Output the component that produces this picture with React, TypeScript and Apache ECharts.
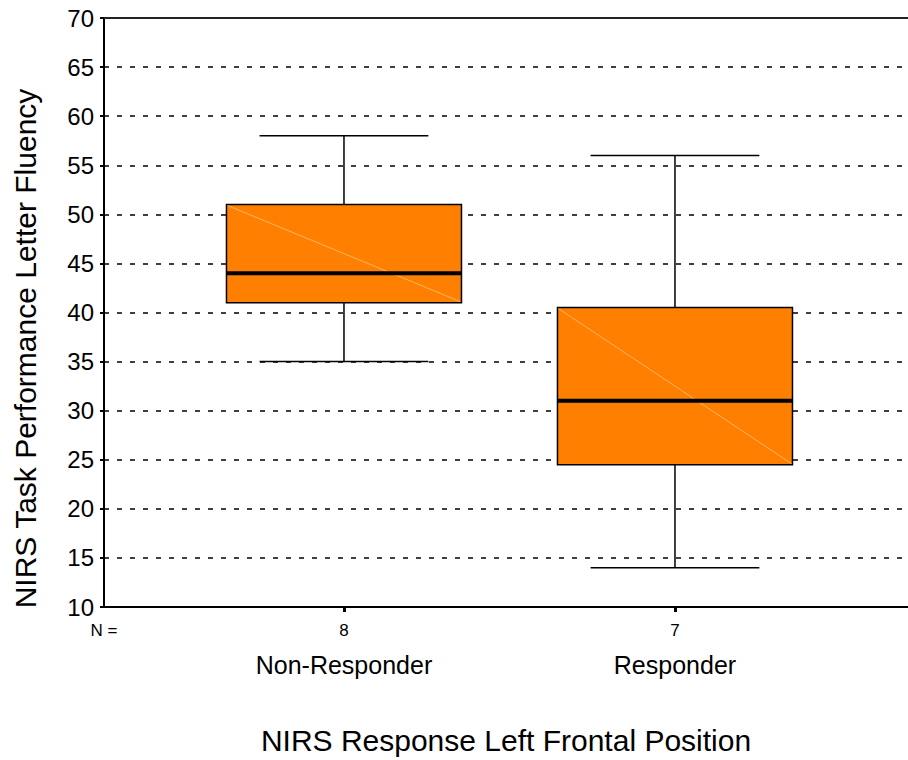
import React, { useEffect, useRef } from "react";
import * as echarts from "echarts";

const categories = ["Non-Responder", "Responder"];
const counts = [8, 7];
const minVals = [35, 14];
const q1Vals = [41, 24.5];
const medianVals = [44, 31];
const q3Vals = [51, 40.5];
const maxVals = [58, 56];
const yTicks = [10, 15, 20, 25, 30, 35, 40, 45, 50, 55, 60, 65, 70];

const X_MIN = 0.275;
const X_MAX = 2.704;
const BOX_W = 0.71;
const WHISKER_W = 0.51;
const FONT = "'Liberation Sans', Arial, Helvetica, sans-serif";

export default function App() {
  const ref = useRef<HTMLDivElement>(null);
  useEffect(() => {
    if (!ref.current) return;
    const chart = echarts.init(ref.current, undefined, { renderer: "svg" });
    const data = categories.map((_, i) => [
      i + 1,
      minVals[i],
      q1Vals[i],
      medianVals[i],
      q3Vals[i],
      maxVals[i],
    ]);
    const renderItem = (params: any, api: any) => {
      const x = api.value(0);
      const vMin = api.value(1);
      const vQ1 = api.value(2);
      const vMed = api.value(3);
      const vQ3 = api.value(4);
      const vMax = api.value(5);
      const boxW = api.size([BOX_W, 0])[0];
      const whW = api.size([WHISKER_W, 0])[0];
      const pMin = api.coord([x, vMin]);
      const pQ1 = api.coord([x, vQ1]);
      const pMed = api.coord([x, vMed]);
      const pQ3 = api.coord([x, vQ3]);
      const pMax = api.coord([x, vMax]);
      const cx = pMed[0];
      const stroke = { stroke: "#000", lineWidth: 1.5 };
      return {
        type: "group",
        children: [
          { type: "line", shape: { x1: cx, y1: pMax[1], x2: cx, y2: pQ3[1] }, style: stroke },
          { type: "line", shape: { x1: cx, y1: pQ1[1], x2: cx, y2: pMin[1] }, style: stroke },
          { type: "line", shape: { x1: cx - whW / 2, y1: pMax[1], x2: cx + whW / 2, y2: pMax[1] }, style: stroke },
          { type: "line", shape: { x1: cx - whW / 2, y1: pMin[1], x2: cx + whW / 2, y2: pMin[1] }, style: stroke },
          {
            type: "rect",
            shape: { x: cx - boxW / 2, y: pQ3[1], width: boxW, height: pQ1[1] - pQ3[1] },
            style: { fill: "#FF8000", stroke: "#000", lineWidth: 1.5 },
          },
          {
            type: "line",
            shape: { x1: cx - boxW / 2 + 1, y1: pQ3[1] + 1, x2: cx + boxW / 2 - 1, y2: pQ1[1] - 1 },
            style: { stroke: "rgba(255,220,180,0.55)", lineWidth: 1 },
          },
          { type: "line", shape: { x1: cx - boxW / 2, y1: pMed[1], x2: cx + boxW / 2, y2: pMed[1] }, style: { stroke: "#000", lineWidth: 4 } },
        ],
      };
    };
    chart.setOption({
      animation: false,
      backgroundColor: "#fff",
      textStyle: { fontFamily: FONT },
      grid: { left: 104, right: 0, top: 18, bottom: 152 },
      xAxis: [
        {
          type: "value",
          min: X_MIN,
          max: X_MAX,
          position: "bottom",
          name: "NIRS Response Left Frontal Position",
          nameLocation: "middle",
          nameGap: 133,
          nameTextStyle: { fontSize: 30, color: "#000", fontFamily: FONT, verticalAlign: "middle" },
          axisLine: { show: true, onZero: false, lineStyle: { color: "#000", width: 2 } },
          axisTick: { show: true, customValues: [1, 2], length: 5, lineStyle: { color: "#000", width: 3 } },
          axisLabel: {
            show: true,
            customValues: [X_MIN, 1, 2],
            margin: 11,
            formatter: (v: number) => {
              if (Math.abs(v - X_MIN) < 1e-6) return "{n|N =}\n{c| }";
              const i = Math.round(v) - 1;
              return `{n|${counts[i]}}\n{c|${categories[i]}}`;
            },
            rich: {
              n: { fontSize: 17, lineHeight: 24, color: "#000", fontFamily: FONT },
              c: { fontSize: 25, lineHeight: 46, color: "#000", fontFamily: FONT },
            },
          },
          splitLine: { show: false },
        },
        {
          type: "value",
          min: X_MIN,
          max: X_MAX,
          position: "top",
          axisLine: { show: true, onZero: false, lineStyle: { color: "#222", width: 2 } },
          axisTick: { show: false },
          axisLabel: { show: false },
          splitLine: { show: false },
        },
      ],
      yAxis: {
        type: "value",
        min: yTicks[0],
        max: yTicks[yTicks.length - 1],
        interval: 5,
        name: "NIRS Task Performance Letter Fluency",
        nameLocation: "middle",
        nameGap: 79,
        nameTextStyle: { fontSize: 30, color: "#000", fontFamily: FONT, verticalAlign: "middle", padding: [0, 72, 0, 0] },
        axisLine: { show: true, lineStyle: { color: "#000", width: 2 } },
        axisTick: { show: true, length: 4, lineStyle: { color: "#000", width: 2 } },
        axisLabel: { fontSize: 24, color: "#000", margin: 10, fontFamily: FONT },
        splitLine: { show: true, lineStyle: { color: "#000", width: 1.5, type: [5, 8] } },
      },
      series: [
        {
          type: "custom",
          renderItem,
          data,
          encode: { x: 0, y: [1, 2, 3, 4, 5] },
          silent: true,
        },
      ],
    });
    return () => chart.dispose();
  }, []);
  return (
    <div
      ref={ref}
      style={{ position: "absolute", left: 0, top: 0, width: 908, height: 760, background: "#fff" }}
    />
  );
}
